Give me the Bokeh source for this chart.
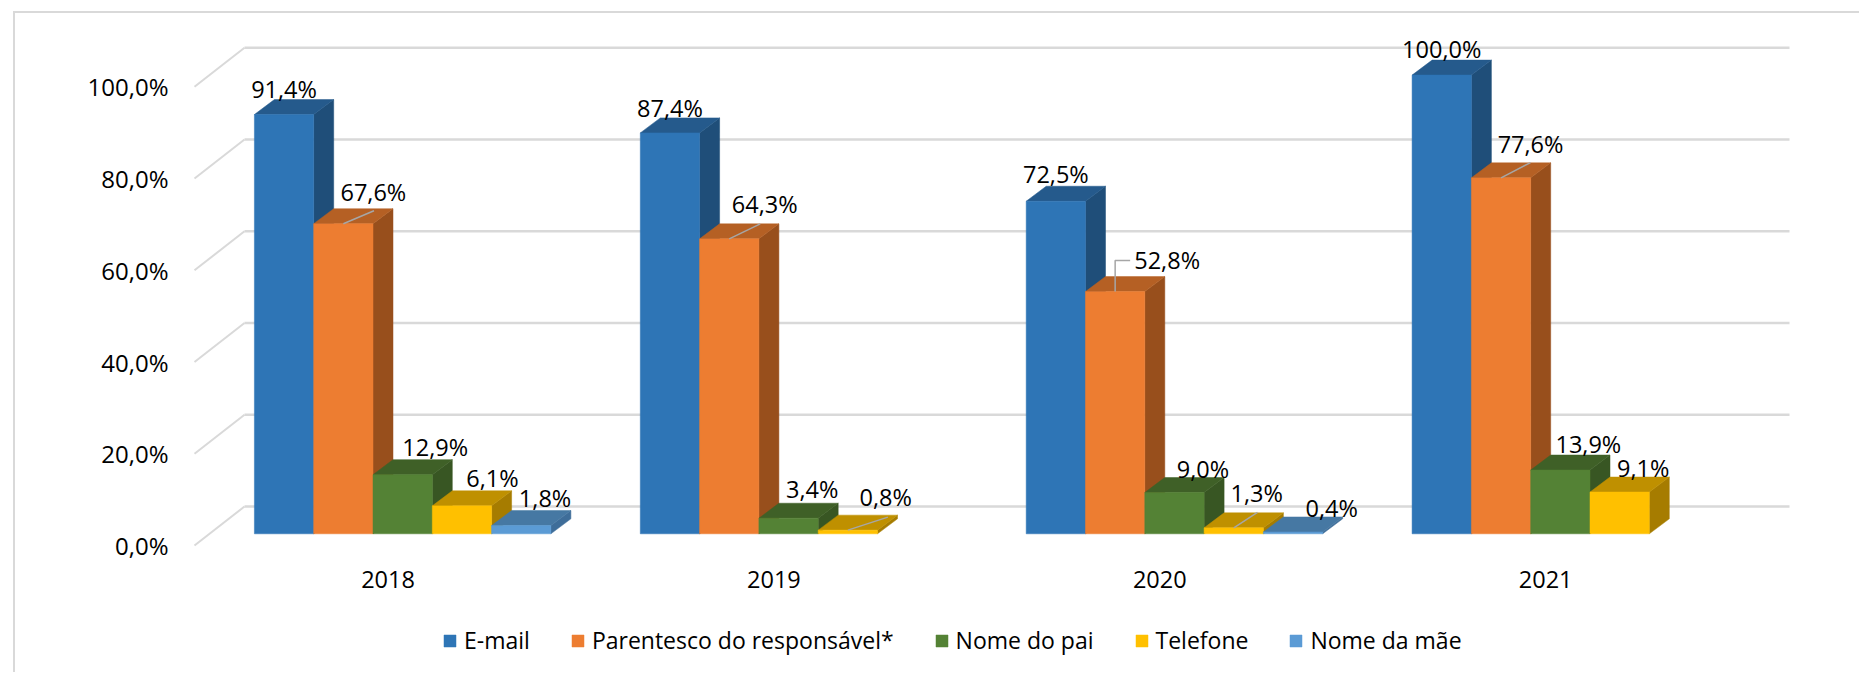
from bokeh.plotting import figure
from bokeh.models import Range1d, FixedTicker, Legend, LegendItem, ColumnDataSource
from bokeh.core.properties import value
from bokeh.embed import file_html
from bokeh.resources import INLINE

years = ["2018", "2019", "2020", "2021"]
y_ticks = [0, 20, 40, 60, 80, 100]
y_tick_labels = ["0,0%", "20,0%", "40,0%", "60,0%", "80,0%", "100,0%"]

email = [91.4, 87.4, 72.5, 100.0]
parentesco = [67.6, 64.3, 52.8, 77.6]
nome_pai = [12.9, 3.4, 9.0, 13.9]
telefone = [6.1, 0.8, 1.3, 9.1]
nome_mae = [1.8, None, 0.4, None]

series_names = ["E-mail", "Parentesco do responsável*", "Nome do pai", "Telefone", "Nome da mãe"]
series_values = [email, parentesco, nome_pai, telefone, nome_mae]
front_colors = ["#2E75B6", "#ED7D31", "#548235", "#FFC000", "#5B9BD5"]
side_colors = ["#1F4E79", "#984F1C", "#385623", "#A67C00", "#3E6D99"]
top_colors = ["#255A8C", "#B56024", "#3F6027", "#BF9000", "#4678A3"]

# label offsets from the top-centre of each bar's front face, in screen pixels
label_dx = [[0, 30, 32.6, 30.5, 23.8], [0, 35.5, 23.7, 37.8, 0],
            [0, 52, 28.5, 23, 38.7], [0, 29.5, 28, 23.5, 0]]
label_dy = [[-25.8, -32, -27.4, -27.6, -27.3], [-25, -35, -29.7, -33.6, 0],
            [-27.5, -32, -24, -35, -23.8], [-26, -34, -26.5, -23.8, 0]]
# leader lines: group, series, then pixel offsets of the path from the bar top
leaders = [(0, 1, [(0, 0), (30.6, -13)]), (1, 1, [(0, 0), (31, -15)]),
           (1, 3, [(0, 0), (40, -13)]), (2, 3, [(0, 0), (23.7, -15.5)]),
           (3, 1, [(0, 0), (29.5, -15.3)]), (2, 1, [(0, 0), (0, -31), (15, -31)])]

FONT = "Open Sans"
PX_X, PX_Y = 385.9, 4.587          # pixels per category, pixels per percentage point
bar_w = 59.3 / PX_X
first_bar = -133.6 / PX_X
depth_x, depth_y = 20 / PX_X, 15 / PX_Y
base_y = 11.7 / PX_Y
wall_x, wall_y = -143.5 / PX_X, 39 / PX_Y
front_x = -193.5 / PX_X
grid_end = (1789 - 387.5) / PX_X

p = figure(width=1846, height=661, output_backend="svg", toolbar_location=None,
           x_range=Range1d((15 - 387.5) / PX_X, (1861 - 387.5) / PX_X),
           y_range=Range1d((545 - 674) / PX_Y, (545 - 13) / PX_Y),
           min_border=0, margin=(11, 0, 0, 13),
           styles={"border-left": "2px solid #D9D9D9", "border-top": "2px solid #D9D9D9"})
p.outline_line_color = None
p.grid.visible = False
p.background_fill_color = "white"

for ax in (p.xaxis[0], p.yaxis[0]):
    ax.axis_line_color = None
    ax.major_tick_line_color = None
    ax.minor_tick_line_color = None
    ax.major_label_text_font = FONT
    ax.major_label_text_font_size = "23.5px"
    ax.major_label_text_color = "black"
p.yaxis[0].fixed_location = (176 - 387.5) / PX_X
p.yaxis[0].ticker = FixedTicker(ticks=y_ticks)
p.yaxis[0].major_label_overrides = dict(zip(y_ticks, y_tick_labels))
p.yaxis[0].major_label_standoff = 2
p.yaxis[0].major_label_text_font_size = "24px"
p.xaxis[0].fixed_location = -15 / PX_Y
p.xaxis[0].ticker = FixedTicker(ticks=list(range(len(years))))
p.xaxis[0].major_label_overrides = dict(enumerate(years))
p.xaxis[0].major_label_standoff = 4

p.multi_line([[wall_x, grid_end] for _ in y_ticks], [[t + wall_y] * 2 for t in y_ticks],
             line_color="#D9D9D9", line_width=2.5)
p.multi_line([[front_x, wall_x] for _ in y_ticks], [[t, t + wall_y] for t in y_ticks],
             line_color="#D9D9D9", line_width=2)

items = []
for s, vals in enumerate(series_values):
    rows = [(g, v) for g, v in enumerate(vals) if v is not None]
    lefts = [g + first_bar + s * bar_w for g, _ in rows]
    rights = [x + bar_w for x in lefts]
    tops = [v + base_y for _, v in rows]
    p.patches([[r, r + depth_x, r + depth_x, r] for r in rights],
              [[base_y, base_y + depth_y, t + depth_y, t] for t in tops],
              fill_color=side_colors[s], line_color=side_colors[s], line_width=0.5)
    p.patches([[l, l + depth_x, r + depth_x, r] for l, r in zip(lefts, rights)],
              [[t, t + depth_y, t + depth_y, t] for t in tops],
              fill_color=top_colors[s], line_color=top_colors[s], line_width=0.5)
    q = p.quad(left=lefts, right=rights, bottom=[base_y] * len(rows), top=tops,
               fill_color=front_colors[s], line_color=front_colors[s], line_width=0.5)
    items.append(LegendItem(label=series_names[s], renderers=[q]))

for g, s, path in leaders:
    cx = g + first_bar + (s + 0.5) * bar_w
    ty = series_values[s][g] + base_y
    p.line([cx + dx / PX_X for dx, _ in path], [ty - dy / PX_Y for _, dy in path],
           line_color="#A6A6A6", line_width=1.5)

lx, ly, lt, ldx, ldy = [], [], [], [], []
for s, vals in enumerate(series_values):
    for g, v in enumerate(vals):
        if v is None:
            continue
        lx.append(g + first_bar + (s + 0.5) * bar_w)
        ly.append(v + base_y)
        lt.append(f"{v:.1f}%".replace(".", ","))
        ldx.append(label_dx[g][s])
        ldy.append(label_dy[g][s])
src = ColumnDataSource(dict(x=lx, y=ly, t=lt, dx=ldx, dy=ldy))
p.text(x="x", y="y", text="t", x_offset="dx", y_offset="dy", source=src,
       text_align="center", text_baseline="middle", text_color="black",
       text_font=value(FONT), text_font_size="23.5px")

legend = Legend(items=items, orientation="horizontal", location=(427, 18),
                glyph_width=15, glyph_height=15, label_standoff=7, spacing=40,
                padding=0, margin=0, border_line_color=None, background_fill_alpha=0,
                label_text_font=FONT, label_text_font_size="23px", label_text_color="black")
p.add_layout(legend)

open("out.html", "w").write(file_html(p, INLINE))
